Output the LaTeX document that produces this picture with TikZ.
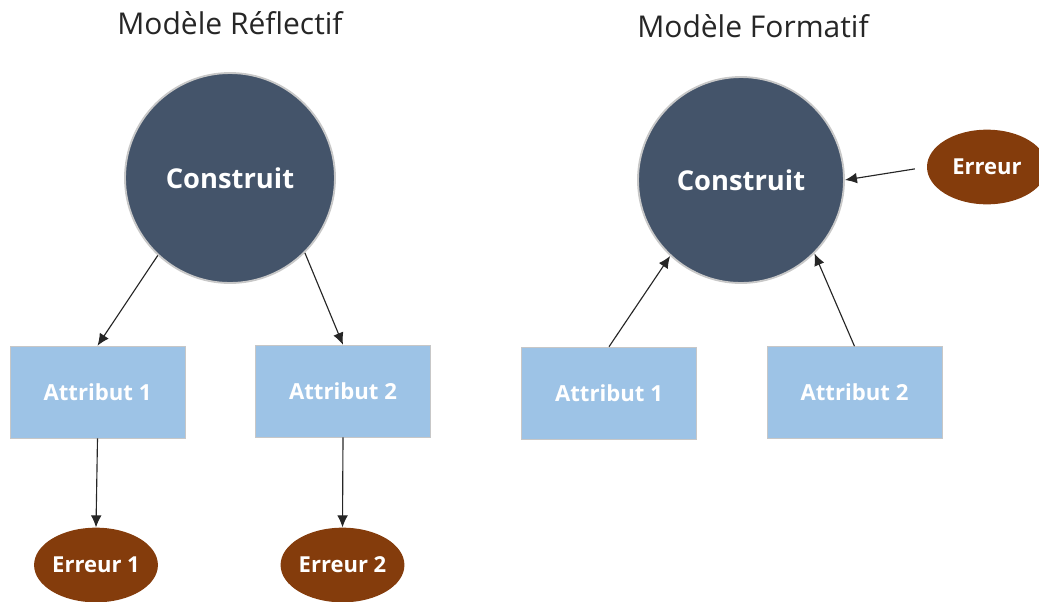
\documentclass[tikz,border=0pt]{standalone}
\usepackage{fontspec}
\setmainfont{Open Sans}
\usetikzlibrary{arrows.meta,shapes.geometric}
\definecolor{slate}{HTML}{44546A}
\definecolor{ringgray}{HTML}{C8C8C8}
\definecolor{attrblue}{HTML}{9DC3E6}
\definecolor{errbrown}{HTML}{843C0C}
\tikzset{
  construct/.style={circle,fill=slate,draw=ringgray,line width=1.4pt,inner sep=0pt,
    text=white,font=\fontsize{20.5}{24}\selectfont\bfseries},
  attr/.style={rectangle,fill=attrblue,draw=black!22,line width=0.4pt,
    minimum width=131pt,minimum height=69pt,inner sep=0pt,
    text=white,font=\fontsize{16.6}{19}\selectfont\bfseries},
  err/.style={ellipse,fill=errbrown,inner sep=0pt,
    minimum width=91pt,minimum height=56pt,
    text=white,font=\fontsize{16.5}{19}\selectfont\bfseries},
  title/.style={font=\fontsize{22.5}{26}\selectfont,text=black!85},
  link/.style={-{Latex[length=9pt,width=8pt]},line width=0.85pt,black!85}
}
\begin{document}
\begin{tikzpicture}[x=0.75pt,y=-0.75pt]
\useasboundingbox (0,0) rectangle (1039,601);
\clip (0,0) rectangle (1039,601);
% titles
\node[title] (t1) at (230,23) {Modèle Réflectif};
\node[title] (t2) at (753,26) {Modèle Formatif};
% reflective model
\node[construct,minimum size=157.5pt] (c1) at (230,178) {Construit};
\node[attr] (a1) at (97.5,392) {Attribut 1};
\node[attr] (a2) at (343,391) {Attribut 2};
\node[err] (e1) at (96,565) {Erreur 1};
\node[err] (e2) at (342.5,565) {Erreur 2};
\draw[link] (c1.227) -- (a1.north);
\draw[link] (c1.315) -- (a2.north);
\draw[link] (a1.south) -- (e1.north);
\draw[link] (a2.south) -- (e2.north);
% formative model
\node[construct,minimum size=154.5pt] (c2) at (741,180) {Construit};
\node[attr] (b1) at (609,393) {Attribut 1};
\node[attr] (b2) at (854.5,392.5) {Attribut 2};
\node[err,minimum width=90pt] (er) at (987,167) {Erreur};
\draw[link] (b1.north) -- (c2.227);
\draw[link] (b2.north) -- (c2.315);
\draw[link,shorten <=9pt] (er.west) -- (c2.east);
\end{tikzpicture}
\end{document}
